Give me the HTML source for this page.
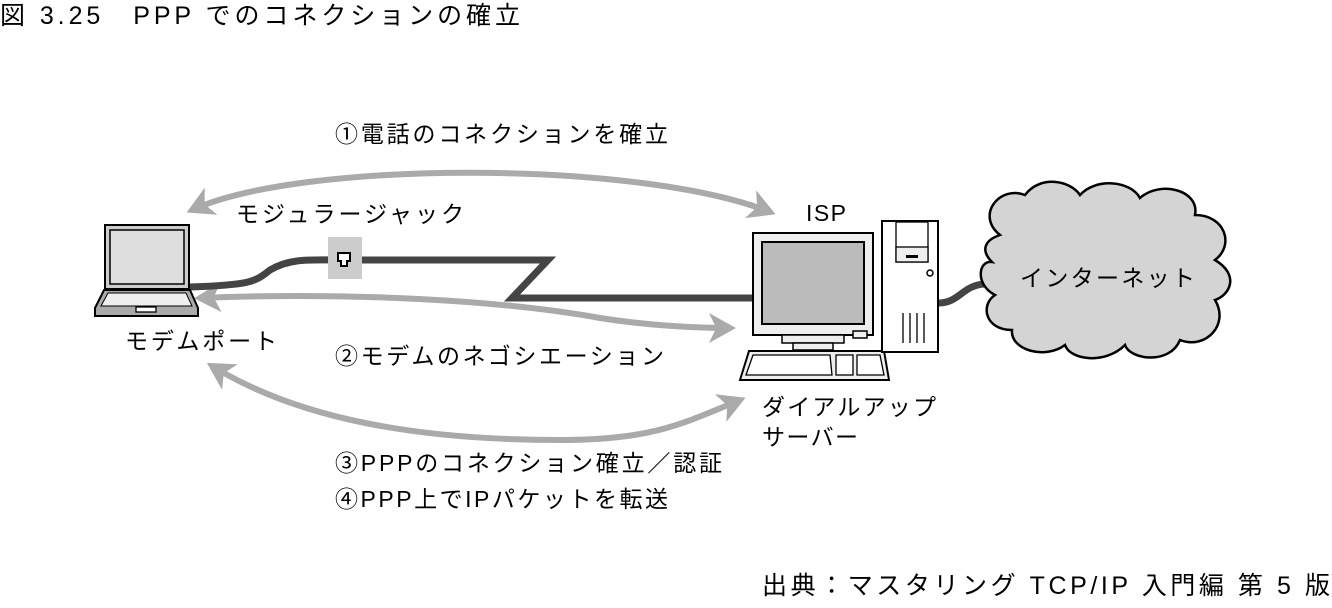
<!DOCTYPE html>
<html><head><meta charset="utf-8"><style>
body{margin:0;width:1332px;height:608px;background:#fff;overflow:hidden;font-family:"Liberation Sans","Noto Sans CJK JP",sans-serif}
svg{position:absolute;left:0;top:0}
svg text{font-family:"Liberation Sans","Noto Sans CJK JP",sans-serif;fill:#000}
</style></head><body>
<svg width="1332" height="608" viewBox="0 0 1332 608">
<defs>
<marker id="ah" markerWidth="5" markerHeight="5" refX="3.5" refY="2.5" orient="auto-start-reverse" markerUnits="strokeWidth">
<path d="M0,0 L4.5,2.5 L0,5 L1.2,2.5 Z" fill="#aaa"/></marker>
</defs>
<text x="0" y="24" font-size="25" textLength="520" lengthAdjust="spacing">図 3.25　PPP でのコネクションの確立</text>

<!-- arrows -->
<path d="M192,210 C300,160 640,160 770,212" fill="none" stroke="#aaa" stroke-width="6" marker-start="url(#ah)" marker-end="url(#ah)"/>
<path d="M200,298 C350,292 500,300 600,318 C650,326 700,328 730,328" fill="none" stroke="#aaa" stroke-width="6" marker-start="url(#ah)" marker-end="url(#ah)"/>
<path d="M212,366 C300,420 420,440 560,440 C650,440 680,425 740,400" fill="none" stroke="#aaa" stroke-width="6" marker-start="url(#ah)" marker-end="url(#ah)"/>

<!-- cable -->
<path d="M190,287 C250,285 255,282 270,270 C290,258 310,260 340,260" fill="none" stroke="#444" stroke-width="7"/>
<path d="M362,260 L548,260 L512,298 L756,298" fill="none" stroke="#444" stroke-width="7"/>
<path d="M938,303 C960,303 962,285 985,284" fill="none" stroke="#444" stroke-width="7"/>

<!-- jack -->
<rect x="328" y="237" width="34" height="42" fill="#ccc"/>
<path d="M338,253 h12 v8 h-3 v5 h-6 v-5 h-3z" fill="#fff" stroke="#000" stroke-width="2"/>

<!-- laptop -->
<rect x="105" y="225" width="84" height="64" fill="#ccc" stroke="#000" stroke-width="2"/>
<rect x="110" y="230" width="74" height="54" fill="#ddd" stroke="#000" stroke-width="1.5"/>
<path d="M104,290 L190,290 L198,308 L198,316 L95,316 L95,308 Z" fill="#aaa" stroke="#000" stroke-width="2"/>
<path d="M108,293 L186,293 L192,306 L101,306 Z" fill="#eee" stroke="#000" stroke-width="1"/>
<rect x="136" y="307" width="20" height="5" fill="#fff" stroke="#000" stroke-width="1.3"/>

<!-- monitor -->
<rect x="753" y="233" width="120" height="102" fill="#eee" stroke="#000" stroke-width="2"/>
<rect x="762" y="242" width="102" height="82" fill="#bbb" stroke="#000" stroke-width="2"/>
<rect x="782" y="335" width="62" height="8" fill="#eee" stroke="#000" stroke-width="1.5"/>
<rect x="793" y="343" width="40" height="7" fill="#eee" stroke="#000" stroke-width="1.5"/>
<rect x="853" y="331" width="14" height="7" fill="#eee" stroke="#000" stroke-width="1.5"/>
<path d="M749,351 L884,351 L889,380 L740,380 Z" fill="#eee" stroke="#000" stroke-width="2"/>
<path d="M753,355 L830,355 L832,375 L746,375 Z" fill="#fff" stroke="#000" stroke-width="1.3"/>
<rect x="836" y="355" width="17" height="20" fill="#fff" stroke="#000" stroke-width="1.3"/>
<path d="M857,355 L880,355 L884,375 L857,375 Z" fill="#fff" stroke="#000" stroke-width="1.3"/>

<!-- tower -->
<rect x="882" y="221" width="56" height="131" fill="#fff" stroke="#000" stroke-width="2"/>
<rect x="896" y="222" width="32" height="40" fill="#fff" stroke="#000" stroke-width="1.3"/>
<rect x="896" y="247" width="32" height="15" fill="#eee" stroke="#000" stroke-width="1.3"/>
<rect x="906" y="255" width="12" height="3" fill="#000"/>
<circle cx="930" cy="273" r="3" fill="#fff" stroke="#000" stroke-width="1.5"/>
<path d="M903,313 v30 M910,313 v30 M917,313 v30 M924,313 v30" stroke="#000" stroke-width="1.3"/>

<!-- cloud -->
<path d="M1000,235 C975,215 1000,185 1025,195 C1040,175 1070,180 1080,195 C1095,178 1130,180 1140,198 C1160,180 1200,190 1195,215 C1225,215 1235,245 1215,260 C1240,275 1230,295 1215,300 C1230,325 1205,350 1180,340 C1170,365 1130,360 1125,345 C1105,365 1070,360 1065,345 C1045,360 1010,350 1012,330 C985,330 980,305 995,295 C975,285 978,260 992,262 C980,250 985,240 1000,235 Z" fill="#d4d4d4" stroke="#000" stroke-width="2.5"/>
<text x="1020" y="286" font-size="23" textLength="175" lengthAdjust="spacing">インターネット</text>

<!-- labels -->
<text x="335" y="142" font-size="23" textLength="333" lengthAdjust="spacing">①電話のコネクションを確立</text>
<text x="236" y="222" font-size="23" textLength="228" lengthAdjust="spacing">モジュラージャック</text>
<text x="806" y="221" font-size="23" textLength="40" lengthAdjust="spacing">ISP</text>
<text x="125" y="349" font-size="23" textLength="152" lengthAdjust="spacing">モデムポート</text>
<text x="335" y="364" font-size="23" textLength="329" lengthAdjust="spacing">②モデムのネゴシエーション</text>
<text x="762" y="415" font-size="23" textLength="174" lengthAdjust="spacing">ダイアルアップ</text>
<text x="762" y="445" font-size="23" textLength="96" lengthAdjust="spacing">サーバー</text>
<text x="335" y="471" font-size="23" textLength="387" lengthAdjust="spacing">③PPPのコネクション確立／認証</text>
<text x="335" y="507" font-size="23" textLength="333" lengthAdjust="spacing">④PPP上でIPパケットを転送</text>
<text x="762" y="594" font-size="25" textLength="568" lengthAdjust="spacing">出典：マスタリング TCP/IP 入門編 第 5 版</text>
</svg>
</body></html>
